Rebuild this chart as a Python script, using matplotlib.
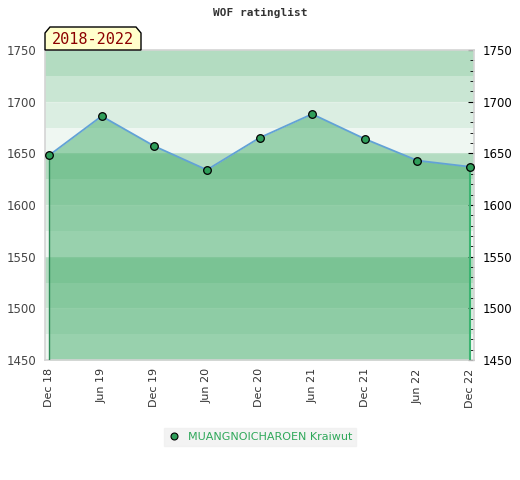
#WOF ratinglist chart

import matplotlib
matplotlib.use("Agg")
import matplotlib.pyplot as plt
from matplotlib.patches import Polygon
from matplotlib.ticker import MultipleLocator

# data
periods = ["Dec 18", "Jun 19", "Dec 19", "Jun 20", "Dec 20", "Jun 21", "Dec 21", "Jun 22", "Dec 22"]
ratings = [1648, 1686, 1657, 1634, 1665, 1688, 1664, 1643, 1637]
player = "MUANGNOICHAROEN Kraiwut"
span_label = "2018-2022"
y_min, y_max = 1450, 1750

# band colours, repeating every 100 points starting at 1450
band_colours = ["#eff7f2", "#dbeee2", "#c9e6d3", "#b3dcc1"]

fig = plt.figure(figsize=(5.2, 4.8), dpi=100)
ax = fig.add_axes([45/520, 1-360/480, 429/520, 310/480])

# background bands
for i, lo in enumerate(range(y_min, y_max, 25)):
    ax.axhspan(lo, lo+25, color=band_colours[i % 4], lw=0, zorder=0)
for v in range(y_min+50, y_max, 50):
    ax.axhline(v, color="white", alpha=0.2, lw=1, zorder=1)

x = list(range(len(periods)))
ax.fill_between(x, ratings, y_min, color="#43ac69", alpha=0.5, lw=0, zorder=2)
ax.plot(x, ratings, color="#62a2d6", lw=1.3, zorder=3)
ax.vlines(x[0], y_min, ratings[0], color="#2e8b57", lw=1, zorder=3)
ax.vlines(x[-1], y_min, ratings[-1], color="#3cb371", lw=1.5, zorder=3)
ax.plot(x, ratings, "o", ms=5.5, mfc="#2f9e5a", mec="black", mew=0.9, zorder=4)

ax.set_xlim(-0.076, 8.076)
ax.set_ylim(y_min, y_max)
ax.set_xticks(x)
ax.set_xticklabels(periods, rotation=90, fontsize=8, color="#333333")
ax.tick_params(axis="x", length=0, pad=6)

ax.yaxis.set_major_locator(MultipleLocator(50))
ax.yaxis.set_minor_locator(MultipleLocator(10))
ax.tick_params(axis="y", which="both", left=False, right=True, labelleft=True,
               labelright=True, direction="in", labelsize=8.5, color="black")
ax.tick_params(axis="y", which="major", length=4, pad=6)
ax.tick_params(axis="y", which="minor", length=3)
for lab in ax.yaxis.get_ticklabels():
    lab.set_color("#444444")
for t in ax.yaxis.get_major_ticks():
    t.label2.set_color("black")

for s in ax.spines.values():
    s.set_color("#d4d4d4")
    s.set_linewidth(1.2)

fig.text(260/520, 1-13/480, "WOF ratinglist", ha="center", va="center",
         family="DejaVu Sans Mono", fontweight="bold", fontsize=8, color="#333333")

# period label box with cut corners
px = lambda v: v/520
py = lambda v: 1-v/480
box = Polygon([(px(45), py(50)), (px(45), py(33)), (px(50), py(27)), (px(136), py(27)),
               (px(141), py(33)), (px(141), py(50))], closed=True, transform=fig.transFigure,
              facecolor="#ffffcc", edgecolor="black", lw=1, zorder=5)
fig.add_artist(box)
fig.text(px(93), py(40), span_label, ha="center", va="center", family="DejaVu Sans Mono",
         fontsize=11, color="#8b0000", zorder=6)

# legend
leg = ax.legend([plt.Line2D([], [], ls="", marker="o", ms=5, mfc="#2f9e5a", mec="black", mew=0.8)],
                [player], loc="center", bbox_to_anchor=(260/520, 1-437/480),
                bbox_transform=fig.transFigure, frameon=True, fontsize=8, handletextpad=0.6,
                borderpad=0.35, handlelength=1.2, fancybox=False)
leg.get_frame().set_facecolor("#f0f0f0")
leg.get_frame().set_edgecolor("#f0f0f0")
for t in leg.get_texts():
    t.set_color("#2fa85a")

fig.savefig("out.png", dpi=100)
